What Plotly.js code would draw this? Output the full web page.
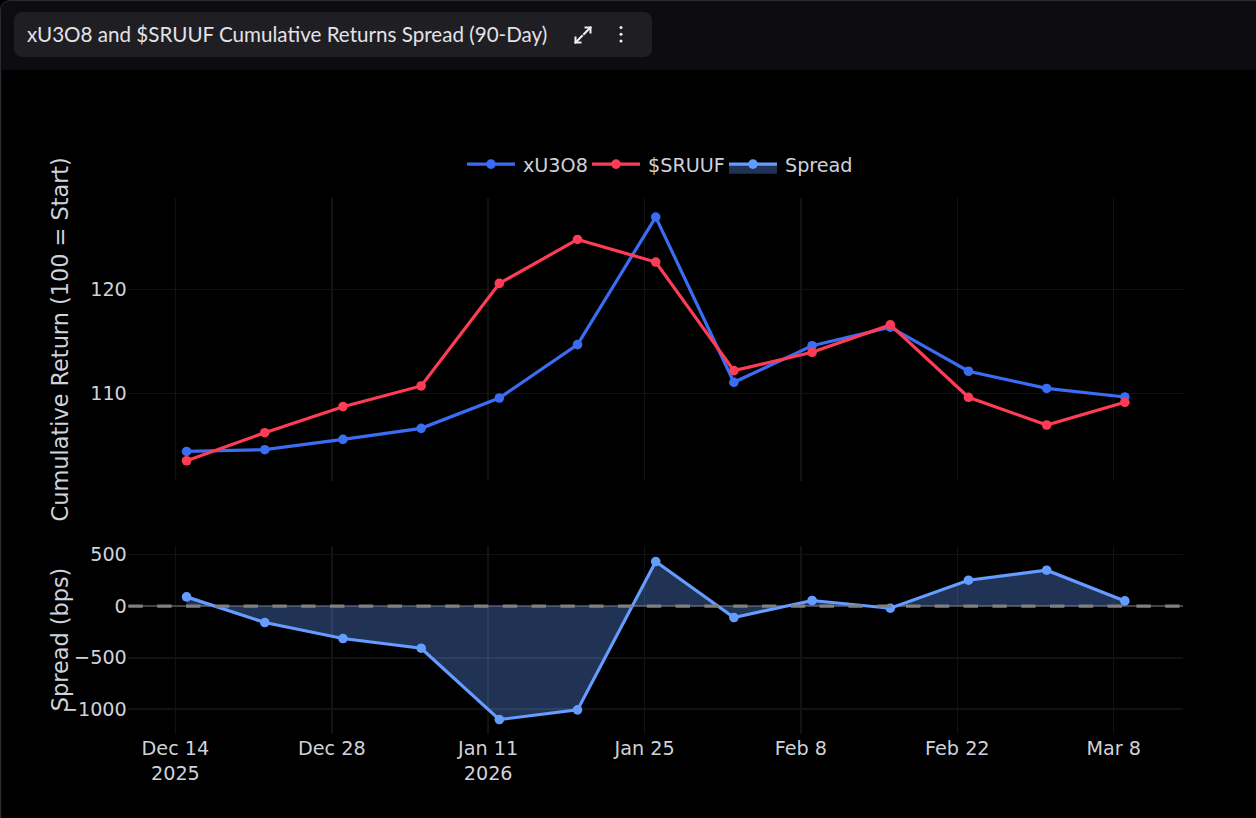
<!DOCTYPE html>
<html>
<head>
<meta charset="utf-8">
<script src="https://cdn.plot.ly/plotly-3.0.1.min.js"></script>
<style>
  html, body { margin:0; padding:0; background:#000; width:1256px; height:818px; overflow:hidden; }
  #frame { position:absolute; left:0; top:0; width:1300px; height:900px; background:#0c0c11;
           border:1px solid #2a2a30; border-radius:10px; box-sizing:border-box; }
  #titlebar { position:absolute; left:14px; top:12px; width:638px; height:45px; background:#1e1e23;
              border-radius:8px; }
  #titletext { position:absolute; left:13px; top:0; height:45px; line-height:45px; color:#e2e2e7;
               font-family:"Lato","Noto Sans",sans-serif; font-size:20.6px; white-space:nowrap; }
  #chartwrap { position:absolute; left:2px; top:70px; width:1254px; height:748px; background:#000; overflow:hidden; }
  #chart { position:absolute; left:0; top:0; width:784px; height:468px; transform:scale(1.6); transform-origin:0 0; }
</style>
</head>
<body>
<div id="frame"></div>
<div id="titlebar"><div id="titletext">xU3O8 and $SRUUF Cumulative Returns Spread (90-Day)</div></div>
<svg id="icons" width="700" height="70" style="position:absolute;left:0;top:0">
  <g stroke="#f0f0f2" stroke-width="2" fill="none" stroke-linecap="square">
    <path d="M584,34 L590.5,27.5"/>
    <path d="M585.5,27.5 L590.5,27.5 L590.5,32.5"/>
    <path d="M582,36 L575.5,42.5"/>
    <path d="M575.5,37.5 L575.5,42.5 L580.5,42.5"/>
  </g>
  <g fill="#f0f0f2">
    <circle cx="621" cy="27.5" r="1.5"/>
    <circle cx="621" cy="34.3" r="1.5"/>
    <circle cx="621" cy="41" r="1.5"/>
  </g>
</svg>
<div id="chartwrap"><div id="chart"></div></div>
<script>
// ---- data ----
const dates = ['2025-12-15','2025-12-22','2025-12-29','2026-01-05','2026-01-12','2026-01-19','2026-01-26',
               '2026-02-02','2026-02-09','2026-02-16','2026-02-23','2026-03-02','2026-03-09'];
const xu3o8  = [104.45, 104.62, 105.61, 106.67, 109.58, 114.70, 126.95, 111.09, 114.60, 116.38, 112.15, 110.50, 109.68];
const sruuf  = [103.56, 106.25, 108.75, 110.74, 120.58, 124.80, 122.63, 112.21, 113.97, 116.60, 109.65, 106.99, 109.17];
const spread = [90, -159, -314, -408, -1100, -1006, 433, -110, 55, -20, 252, 349, 51];
const seriesNames = ['xU3O8', '$SRUUF', 'Spread'];
const yTitleTop = 'Cumulative Return (100 = Start)';
const yTitleBottom = 'Spread (bps)';

const gridC = '#121215';
const textC = '#cfd2da';
const xRange = ['2025-12-09 19:00', '2026-03-14 04:30'];
const DAY = 86400000;

const traces = [
  { x: dates, y: xu3o8, name: seriesNames[0], type: 'scatter', mode: 'lines+markers', legend: 'legend',
    line: { color: '#3a6cf4', width: 2 }, marker: { color: '#3a6cf4', size: 6 }, xaxis: 'x', yaxis: 'y' },
  { x: dates, y: sruuf, name: seriesNames[1], type: 'scatter', mode: 'lines+markers', legend: 'legend2',
    line: { color: '#fe3c56', width: 2 }, marker: { color: '#fe3c56', size: 6 }, xaxis: 'x', yaxis: 'y' },
  { x: dates, y: spread, name: seriesNames[2], type: 'scatter', mode: 'lines+markers', legend: 'legend3',
    fill: 'tozeroy', fillcolor: 'rgba(100,155,255,0.33)',
    line: { color: '#659cff', width: 2 }, marker: { color: '#659cff', size: 6 }, xaxis: 'x2', yaxis: 'y2' }
];

function legendAt(x) {
  return { orientation: 'h', x: x, xanchor: 'left', y: 1.02, yanchor: 'bottom',
           bgcolor: 'rgba(0,0,0,0)', font: { size: 12, color: textC } };
}

const layout = {
  width: 784, height: 468,
  paper_bgcolor: '#000', plot_bgcolor: '#000',
  font: { family: 'DejaVu Sans, Verdana, sans-serif', size: 12, color: textC },
  margin: { l: 79, r: 46, t: 80, b: 53, pad: 0 },
  showlegend: true,
  legend: legendAt(0.3135),
  legend2: legendAt(0.4321),
  legend3: legendAt(0.5620),
  xaxis: { type: 'date', range: xRange, anchor: 'y', domain: [0, 1], showticklabels: false,
           dtick: 14 * DAY, tick0: '2025-12-14', showgrid: true, gridcolor: gridC,
           zeroline: false, showline: false, ticks: '' },
  yaxis: { domain: [0.4729, 1], range: [101.66, 128.78], dtick: 10, showgrid: true, gridcolor: gridC,
           zeroline: false, showline: false, ticks: '', title: { text: yTitleTop, font: { size: 14, color: textC } } },
  xaxis2: { type: 'date', range: xRange, anchor: 'y2', domain: [0, 1], matches: 'x',
            dtick: 14 * DAY, tick0: '2025-12-14', showgrid: true, gridcolor: gridC,
            zeroline: false, showline: false, ticks: '' },
  yaxis2: { domain: [0, 0.3514], range: [-1240, 587], dtick: 500, showgrid: true, gridcolor: gridC,
            zeroline: true, zerolinecolor: '#444', zerolinewidth: 1, showline: false, ticks: '' },
  annotations: [{ text: yTitleBottom, xref: 'paper', yref: 'paper', x: -0.0643, y: 0.1757,
                  xanchor: 'center', yanchor: 'middle', textangle: -90, showarrow: false,
                  font: { size: 14, color: textC } }],
  shapes: [{ type: 'line', xref: 'x2 domain', x0: 0, x1: 1, yref: 'y2', y0: 0, y1: 0,
             line: { color: 'gray', width: 2, dash: 'dash' } }]
};

Plotly.newPlot('chart', traces, layout, { displayModeBar: false, responsive: false });
</script>
</body>
</html>
